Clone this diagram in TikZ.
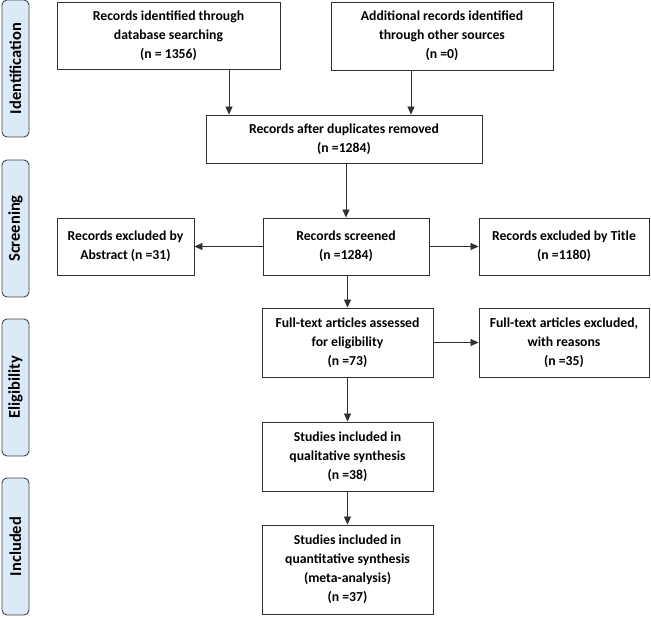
\documentclass[tikz,border=0pt]{standalone}
\usepackage{fontspec}
\setmainfont{Carlito}
\usetikzlibrary{arrows.meta}
\definecolor{phasefill}{HTML}{DCEAF7}
\definecolor{edge}{HTML}{303030}
\begin{document}
\begin{tikzpicture}[x=1pt,y=-1pt,
  box/.style={draw=edge, line width=0.9pt, fill=white, align=center,
    font=\bfseries\fontsize{13.7}{19}\selectfont, inner sep=0pt},
  phase/.style={draw=edge!90, line width=0.9pt, fill=phasefill, rounded corners=5pt,
    minimum width=27pt, minimum height=137pt, inner sep=0pt},
  phasetext/.style={rotate=90, font=\bfseries\fontsize{16.5}{18}\selectfont},
  arr/.style={-{Triangle[length=8pt,width=7pt]}, line width=0.8pt, draw=edge}]
\useasboundingbox[fill=white] (0,0) rectangle (651,617);
% phases
\node[phase] (p1) at (15.5,68.5) {};
\node[phasetext] at (p1) {Identification};
\node[phase] (p2) at (15.5,228.5) {};
\node[phasetext] at (p2) {Screening};
\node[phase] (p3) at (15.5,387.5) {};
\node[phasetext] at (p3) {Eligibility};
\node[phase] (p4) at (15.5,546.5) {};
\node[phasetext] at (p4) {Included};
% boxes
\node[box, minimum width=223pt, minimum height=67pt] (b1) at (168.5,35.5)
  {Records identified through\\database searching\\(n = 1356)};
\node[box, minimum width=222pt, minimum height=68pt] (b2) at (442,36)
  {Additional records identified\\through other sources\\(n =0)};
\node[box, minimum width=276pt, minimum height=48pt] (b3) at (344,139)
  {Records after duplicates removed\\(n =1284)};
\node[box, minimum width=166pt, minimum height=57pt] (b4) at (346,246.5)
  {Records screened\\(n =1284)};
\node[box, minimum width=137pt, minimum height=57pt] (bl) at (125.5,246.5)
  {Records excluded by\\Abstract (n =31)};
\node[box, minimum width=170pt, minimum height=57pt] (br) at (564,246.5)
  {Records excluded by Title\\(n =1180)};
\node[box, minimum width=171pt, minimum height=69pt] (b5) at (347.5,342.5)
  {Full-text articles assessed\\for eligibility\\(n =73)};
\node[box, minimum width=170pt, minimum height=69pt] (b6) at (564,342.5)
  {Full-text articles excluded,\\with reasons\\(n =35)};
\node[box, minimum width=171pt, minimum height=69pt] (b7) at (347.5,456.5)
  {Studies included in\\qualitative synthesis\\(n =38)};
\node[box, minimum width=171pt, minimum height=89pt] (b8) at (347.5,569.5)
  {Studies included in\\quantitative synthesis\\(meta-analysis)\\(n =37)};
% arrows
\coordinate (a1) at (229,0);
\coordinate (a2) at (411,0);
\draw[arr] (b1.south -| a1) -- (b3.north -| a1);
\draw[arr] (b2.south -| a2) -- (b3.north -| a2);
\draw[arr] (b3.south -| b4.north) -- (b4.north);
\draw[arr] (b4.west) -- (bl.east);
\draw[arr] (b4.east) -- (br.west);
\draw[arr] (b4.south -| b5.north) -- (b5.north);
\draw[arr] (b5.east) -- (b5.east -| b6.west);
\draw[arr] (b5.south) -- (b7.north);
\draw[arr] (b7.south) -- (b8.north);
\end{tikzpicture}
\end{document}
